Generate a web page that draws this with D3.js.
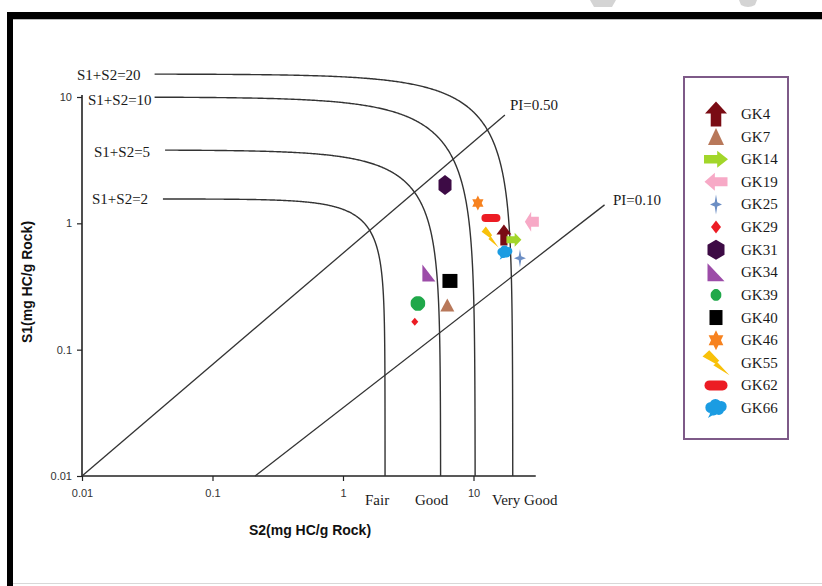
<!DOCTYPE html>
<html>
<head>
<meta charset="utf-8">
<script src="https://cdn.jsdelivr.net/npm/d3@7/dist/d3.min.js"></script>
<style>
  html, body { margin: 0; padding: 0; background: #fff; }
  svg { display: block; }
</style>
</head>
<body>
<svg id="chart" width="822" height="586"></svg>
<script>
// ---------------- DATA ----------------
const sampleNames = ["GK4","GK7","GK14","GK19","GK25","GK29","GK31","GK34","GK39","GK40","GK46","GK55","GK62","GK66"];
const s2Values = [17.1, 6.3, 20.4, 28.0, 22.7, 3.55, 6.05, 4.55, 3.75, 6.6, 10.8, 13.4, 13.6, 17.4];
const s1Values = [0.81, 0.226, 0.74, 1.03, 0.53, 0.166, 2.01, 0.405, 0.232, 0.35, 1.45, 0.78, 1.10, 0.59];

const xTickValues = [0.01, 0.1, 1, 10];
const yTickValues = [0.01, 0.1, 1, 10];
const xTickLabels = ["0.01", "0.1", "1", "10"];
const yTickLabels = ["0.01", "0.1", "1", "10"];

// S1+S2 = const iso-lines (as drawn in the figure)
const sumLabels   = ["S1+S2=2", "S1+S2=5", "S1+S2=10", "S1+S2=20"];
const sumS2Limit  = [2.1, 5.6, 10.3, 20];    // where each line drops vertically
const sumS1Limit  = [1.56, 3.81, 10, 15.2];  // level of each horizontal part
const sumShape    = [1.72, 1.15, 1.0, 1.0];  // corner shape
const sumS2Start  = [0.0417, 0.0433, 0.036, 0.036];

// Production index lines
const piLabels  = ["PI=0.50", "PI=0.10"];
const piStartS2 = [0.01, 0.212];
const piStartS1 = [0.01, 0.01];
const piEndS2   = [17.4, 101];
const piEndS1   = [7.2, 1.40];

const gradeLabels = ["Fair", "Good", "Very Good"];

// ---------------- STYLE ----------------
const symbolShapes = ["arrowUp","triangle","arrowRight","arrowLeft","star4","diamond","hexagon","rightTri","circle","square","star6","bolt","bar","cloud"];
const symbolColors = ["#7a0c14","#b8785a","#a2d62a","#f7a9c6","#6c8ec4","#ec1c24","#3d0b45","#9c4ca8","#20a84a","#000000","#f7821f","#f8c10a","#ec1c24","#1b9ce2"];
const plotSizes = [[15,21],[14,13],[15,14],[14,20],[12,18],[7,8],[13,20],[13,17],[15,15],[15,14],[13,15],[17,21],[19,8],[15,15]];
const legendSizes = [[22,25],[16,17],[24,17],[23,18],[12,20],[10,13],[17,20],[17,18],[11,12],[13,15],[17,20],[27,25],[23,10],[23,20]];

const svg = d3.select("#chart");
const W = 822, H = 586;

// ---------------- SCALES ----------------
const x = d3.scaleLog().domain([0.01, 100]).range([82, 604]);
const y = d3.scaleLog().domain([0.01, 10]).range([476, 97]);
const xAxisEnd = 30;

// ---------------- FRAME ----------------
svg.append("rect").attr("x",0).attr("y",0).attr("width",W).attr("height",H).attr("fill","#fff");
svg.append("path").attr("d","M590,0 L616,0 L612,7 L594,7 Z").attr("fill","#d4d4d4");
svg.append("path").attr("d","M739,0 L757,0 L755,5 Q748,9 741,5 Z").attr("fill","#d4d4d4");
svg.append("rect").attr("x",7).attr("y",12).attr("width",W-7).attr("height",7).attr("fill","#000");
svg.append("rect").attr("x",7).attr("y",12).attr("width",6).attr("height",H-12).attr("fill","#000");
svg.append("line").attr("x1",13).attr("x2",W).attr("y1",19.5).attr("y2",19.5).attr("stroke","#bbb").attr("stroke-width",1);
svg.append("line").attr("x1",13).attr("x2",W).attr("y1",583.5).attr("y2",583.5).attr("stroke","#d8d8d8").attr("stroke-width",1);

// ---------------- AXES ----------------
const axisColor = "#222";
const gx = svg.append("g").attr("transform", `translate(0,${y(0.01)})`)
  .call(d3.axisBottom(x).tickValues(xTickValues).tickSize(5).tickPadding(8)
        .tickFormat((d,i) => xTickLabels[i]));
gx.select(".domain").remove();
gx.append("line").attr("x1", x(0.01)).attr("x2", x(xAxisEnd)).attr("y1",0).attr("y2",0)
  .attr("stroke", axisColor).attr("stroke-width", 1.6);

const gy = svg.append("g").attr("transform", `translate(${x(0.01)},0)`)
  .call(d3.axisLeft(y).tickValues(yTickValues).tickSize(5).tickPadding(5)
        .tickFormat((d,i) => yTickLabels[i]));
gy.select(".domain").remove();
gy.append("line").attr("x1",0).attr("x2",0).attr("y1", y(0.01)).attr("y2", y(10) - 2)
  .attr("stroke", axisColor).attr("stroke-width", 1.6);

[gx, gy].forEach(g => {
  g.selectAll(".tick line").attr("stroke", axisColor).attr("stroke-width", 1.2);
  g.selectAll(".tick text").attr("fill", "#333")
   .style("font-family", "'Liberation Sans', Arial, sans-serif").style("font-size", "11px");
});

// axis titles
svg.append("text").attr("x", 310).attr("y", 535).attr("text-anchor","middle")
  .style("font-family","'Liberation Sans', Arial, sans-serif").style("font-size","14px")
  .style("font-weight","bold").attr("fill","#111").text("S2(mg HC/g Rock)");
svg.append("text").attr("transform","translate(32,282) rotate(-90)").attr("text-anchor","middle")
  .style("font-family","'Liberation Sans', Arial, sans-serif").style("font-size","14px")
  .style("font-weight","bold").attr("fill","#111").text("S1(mg HC/g Rock)");

// ---------------- ISO LINES S1+S2 ----------------
const lineGen = d3.line().x(d => x(d[0])).y(d => y(d[1]));
const serif = "'Liberation Serif', 'Times New Roman', serif";
const sumLabelPos = [[92, 204], [94, 157], [88, 105], [77, 80]];
sumLabels.forEach((lab, i) => {
  const cx = sumS2Limit[i], cy = sumS1Limit[i], p = sumShape[i];
  const pts = [];
  const n = 400;
  const l0 = Math.log10(sumS2Start[i]), l1 = Math.log10(cx);
  for (let k = 0; k <= n; k++) {
    const t = 1 - Math.pow(1 - k / n, 3);
    const s2 = Math.min(cx, Math.pow(10, l0 + (l1 - l0) * t));
    let s1 = cy * Math.pow(Math.max(0, 1 - Math.pow(s2 / cx, p)), 1 / p);
    if (s1 < 0.01) { s1 = 0.01; pts.push([cx * Math.pow(1 - Math.pow(0.01 / cy, p), 1 / p), s1]); break; }
    pts.push([s2, s1]);
  }
  svg.append("path").attr("d", lineGen(pts)).attr("fill","none")
    .attr("stroke","#333").attr("stroke-width",1.4);
  svg.append("text").attr("x", sumLabelPos[i][0]).attr("y", sumLabelPos[i][1])
    .style("font-family", serif).style("font-size","15px").attr("fill","#1a1a1a").text(lab);
});

// ---------------- PI LINES ----------------
const piLabelPos = [[510, 110], [613, 205]];
piLabels.forEach((lab, i) => {
  svg.append("path").attr("d", lineGen([[piStartS2[i], piStartS1[i]], [piEndS2[i], piEndS1[i]]]))
    .attr("stroke","#333").attr("stroke-width",1.3).attr("fill","none");
  svg.append("text").attr("x", piLabelPos[i][0]).attr("y", piLabelPos[i][1])
    .style("font-family", serif).style("font-size","15px").attr("fill","#1a1a1a").text(lab);
});

// grade labels
const gradeX = [365, 415, 492];
gradeLabels.forEach((g, i) => {
  svg.append("text").attr("x", gradeX[i]).attr("y", 505)
    .style("font-family", serif).style("font-size","15px").attr("fill","#1a1a1a").text(g);
});

// ---------------- SYMBOLS ----------------
function poly(pts) { return "M" + pts.map(p => p[0].toFixed(2) + "," + p[1].toFixed(2)).join("L") + "Z"; }
function circ(cx, cy, r) {
  return `M${cx - r},${cy}A${r},${r} 0 1 0 ${cx + r},${cy}A${r},${r} 0 1 0 ${cx - r},${cy}Z`;
}
function shapePath(type, w, h) {
  const a = w / 2, b = h / 2;
  switch (type) {
    case "arrowUp": return poly([[0,-b],[a,-b+0.48*h],[a*0.48,-b+0.48*h],[a*0.48,b],[-a*0.48,b],[-a*0.48,-b+0.48*h],[-a,-b+0.48*h]]);
    case "arrowRight": return poly([[a,0],[a-0.45*w,-b],[a-0.45*w,-b*0.5],[-a,-b*0.5],[-a,b*0.5],[a-0.45*w,b*0.5],[a-0.45*w,b]]);
    case "arrowLeft": return poly([[-a,0],[-a+0.45*w,-b],[-a+0.45*w,-b*0.5],[a,-b*0.5],[a,b*0.5],[-a+0.45*w,b*0.5],[-a+0.45*w,b]]);
    case "triangle": return poly([[0,-b],[a,b],[-a,b]]);
    case "rightTri": return poly([[-a,-b],[a,b],[-a,b]]);
    case "diamond": return poly([[0,-b],[a,0],[0,b],[-a,0]]);
    case "square": return poly([[-a,-b],[a,-b],[a,b],[-a,b]]);
    case "hexagon": return poly([[0,-b],[a,-b*0.5],[a,b*0.5],[0,b],[-a,b*0.5],[-a,-b*0.5]]);
    case "circle": {
      const pts = d3.range(8).map(k => { const t = (k + 0.5) * Math.PI / 4; return [a * Math.cos(t), b * Math.sin(t)]; });
      return d3.line().curve(d3.curveCardinalClosed.tension(0.3))(pts);
    }
    case "star4": {
      const pts = d3.range(8).map(k => { const t = k * Math.PI / 4 - Math.PI / 2; const r = k % 2 ? 0.3 : 1; return [a * r * Math.cos(t), b * r * Math.sin(t)]; });
      return poly(pts);
    }
    case "star6": {
      const pts = d3.range(12).map(k => { const t = k * Math.PI / 6 - Math.PI / 2; const r = k % 2 ? 0.58 : 1; return [a * r * Math.cos(t), b * r * Math.sin(t)]; });
      return poly(pts);
    }
    case "bolt": return poly([[-0.25,-0.5],[0.12,-0.08],[0.05,-0.02],[0.5,0.5],[-0.1,0.1],[-0.02,0.04],[-0.5,-0.25]].map(p => [p[0]*w, p[1]*h]));
    case "bar": {
      const r = b;
      return `M${-a+r},${-b}L${a-r},${-b}A${r},${r} 0 0 1 ${a-r},${b}L${-a+r},${b}A${r},${r} 0 0 1 ${-a+r},${-b}Z`;
    }
    case "cloud": {
      const r = Math.min(a, b);
      const parts = [
        circ(-a * 0.45, -b * 0.05, r * 0.55),
        circ(-a * 0.05, -b * 0.3, r * 0.6),
        circ(a * 0.45, -b * 0.15, r * 0.55),
        circ(a * 0.25, b * 0.2, r * 0.5),
        circ(-a * 0.2, b * 0.25, r * 0.5),
        poly([[-a*0.4, b*0.3],[-a*0.7, b],[-a*0.05, b*0.55]])
      ];
      return parts.join("");
    }
  }
}

// data points
const gPts = svg.append("g");
sampleNames.forEach((name, i) => {
  gPts.append("path")
    .attr("transform", `translate(${x(s2Values[i])},${y(s1Values[i])})`)
    .attr("d", shapePath(symbolShapes[i], plotSizes[i][0], plotSizes[i][1]))
    .attr("fill", symbolColors[i]);
});

// ---------------- LEGEND ----------------
const lg = svg.append("g");
lg.append("rect").attr("x", 684).attr("y", 77).attr("width", 104).attr("height", 362)
  .attr("fill", "#fff").attr("stroke", "#7e5a88").attr("stroke-width", 2);
const legY = d3.scalePoint().domain(sampleNames).range([114, 408]);
sampleNames.forEach((name, i) => {
  lg.append("path")
    .attr("transform", `translate(716,${legY(name)})`)
    .attr("d", shapePath(symbolShapes[i], legendSizes[i][0], legendSizes[i][1]))
    .attr("fill", symbolColors[i]);
  lg.append("text").attr("x", 741).attr("y", legY(name) + 5)
    .style("font-family", serif).style("font-size", "15px").attr("fill", "#1a1a1a").text(name);
});
</script>
</body>
</html>
